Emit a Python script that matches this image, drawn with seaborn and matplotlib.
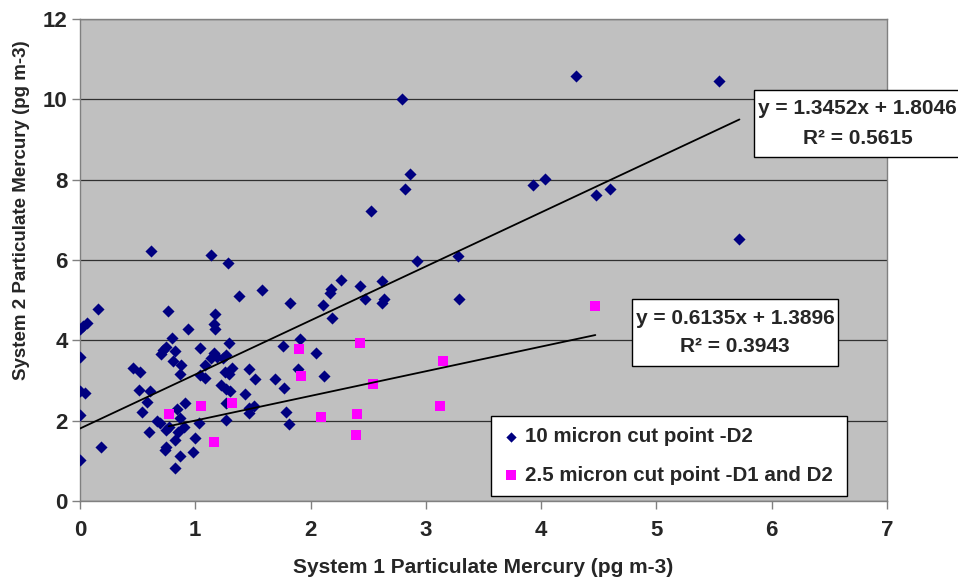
import matplotlib
matplotlib.use("Agg")
import matplotlib.pyplot as plt
from matplotlib.patches import Rectangle
import seaborn as sns
import numpy as np

# ---------------- data ----------------
blue_x = [0.62, 0.16, 0.00, 0.03, 0.06, 0.76, 0.94, 0.80, 0.75, 0.72, 0.70, 0.82, 0.00, 0.46,
          0.52, 0.81, 0.88, 0.87, 0.00, 0.04, 0.51, 0.61, 0.58, 0.54, 0.91, 0.84, 0.00, 0.67,
          0.69, 0.60, 0.75, 0.77, 0.87, 0.90, 0.85, 0.82, 0.75, 0.74, 0.18, 0.87, 0.00, 0.82,
          1.14, 1.28, 1.58, 1.38, 1.82, 1.17, 1.16, 1.17, 1.29, 1.04, 1.76, 1.91, 1.16, 1.14,
          1.19, 1.27, 1.24, 1.08, 1.04, 1.08, 1.32, 1.26, 1.29, 1.47, 1.52, 1.69, 1.77, 1.89,
          1.22, 1.27, 1.30, 1.43, 1.27, 1.47, 1.51, 1.47, 1.79, 1.81, 1.27, 1.03, 1.00, 0.98,
          2.92, 3.28, 3.29, 2.26, 2.18, 2.17, 2.43, 2.47, 2.62, 2.64, 2.62, 2.11, 2.19, 2.05,
          2.12, 2.52, 2.79, 2.86, 2.82, 3.93, 4.03, 4.30, 5.54, 4.48, 4.60, 5.72]
blue_y = [6.22, 4.77, 4.28, 4.36, 4.44, 4.73, 4.28, 4.07, 3.84, 3.76, 3.66, 3.74, 3.59, 3.32,
          3.22, 3.49, 3.39, 3.16, 2.74, 2.68, 2.76, 2.74, 2.47, 2.21, 2.45, 2.29, 2.14, 2.00,
          1.93, 1.71, 1.77, 1.85, 2.06, 1.85, 1.73, 1.52, 1.35, 1.27, 1.35, 1.13, 1.02, 0.81,
          6.12, 5.93, 5.25, 5.10, 4.94, 4.65, 4.40, 4.27, 3.93, 3.82, 3.86, 4.03, 3.68, 3.55,
          3.59, 3.63, 3.55, 3.39, 3.14, 3.07, 3.32, 3.22, 3.16, 3.28, 3.03, 3.03, 2.81, 3.28,
          2.89, 2.78, 2.74, 2.66, 2.43, 2.31, 2.36, 2.20, 2.22, 1.92, 2.02, 1.95, 1.58, 1.23,
          5.98, 6.10, 5.02, 5.50, 5.27, 5.17, 5.35, 5.03, 5.48, 5.03, 4.92, 4.88, 4.55, 3.69,
          3.11, 7.22, 10.01, 8.13, 7.78, 7.87, 8.01, 10.58, 10.46, 7.62, 7.76, 6.52]

pink_x = [0.77, 1.05, 1.16, 1.32, 1.90, 1.92, 2.09, 2.40, 2.39, 2.43, 2.54, 3.12, 3.15, 4.47]
pink_y = [2.16, 2.36, 1.48, 2.45, 3.78, 3.12, 2.08, 2.16, 1.64, 3.93, 2.91, 2.36, 3.49, 4.86]

blue_label = "10 micron cut point -D2"
pink_label = "2.5 micron cut point -D1 and D2"

blue_fit = {"slope": 1.3452, "intercept": 1.8046, "r2": 0.5615}
pink_fit = {"slope": 0.6135, "intercept": 1.3896, "r2": 0.3943}

x_ticks = [0, 1, 2, 3, 4, 5, 6, 7]
y_ticks = [0, 2, 4, 6, 8, 10, 12]
x_title = "System 1 Particulate Mercury (pg m-3)"
y_title = "System 2 Particulate Mercury (pg m-3)"

# ---------------- style ----------------
sns.set_theme(style="white")
plt.rcParams['font.family'] = ['Liberation Sans', 'DejaVu Sans']
plt.rcParams['font.weight'] = 'bold'

W, H = 958, 577
fig = plt.figure(figsize=(W / 100, H / 100), dpi=100)
fig.patch.set_facecolor('white')
ax = fig.add_axes([80 / W, 1 - 501 / H, 807 / W, 482 / H])
ax.set_facecolor('#C0C0C0')

BLUE = '#000080'
PINK = '#FF00FF'

sns.scatterplot(x=blue_x, y=blue_y, marker='D', s=38, color=BLUE, linewidth=0,
                ax=ax, label=blue_label, zorder=3)
sns.scatterplot(x=pink_x, y=pink_y, marker='s', s=62, color=PINK, linewidth=0,
                ax=ax, label=pink_label, zorder=3)

# trendlines from the stated coefficients, spanning each series' x range
for xs, fit in ((blue_x, blue_fit), (pink_x, pink_fit)):
    lx = np.array([min(xs), max(xs)])
    ax.plot(lx, fit["slope"] * lx + fit["intercept"], color='black', lw=1.3, zorder=4)

ax.set_xlim(0, 7)
ax.set_ylim(0, 12)
ax.set_xticks(x_ticks)
ax.set_yticks(y_ticks)
ax.yaxis.grid(True, color='#303030', lw=0.9)
ax.xaxis.grid(False)
ax.set_axisbelow(True)

for side in ['left', 'bottom', 'top', 'right']:
    ax.spines[side].set_color('#808080')
    ax.spines[side].set_linewidth(1.0)

ax.tick_params(axis='both', direction='out', length=6, width=1, color='#808080',
               left=True, bottom=True)
ax.tick_params(axis='y', labelsize=16, pad=3)
ax.tick_params(axis='x', labelsize=16, pad=8)
for lab in ax.get_xticklabels() + ax.get_yticklabels():
    lab.set_fontweight('bold')

ax.set_xlabel(x_title, fontsize=15, fontweight='bold', labelpad=12)
ax.set_ylabel(y_title, fontsize=13.5, fontweight='bold')
ax.yaxis.set_label_coords((30 - 80) / 807, (501 - 210) / 482)

leg = ax.legend(loc='lower left', bbox_to_anchor=(411 / 807, 5 / 482, 356 / 807, 78 / 482),
                mode='expand', frameon=True, fancybox=False, framealpha=1,
                facecolor='white', edgecolor='black', prop={'size': 14.8, 'weight': 'bold'},
                labelspacing=0.95, handlelength=0.8, handletextpad=0.3, borderpad=0.55,
                borderaxespad=0, markerscale=0.85)
leg.get_frame().set_linewidth(1.0)

def px(x, y):
    return x / W, 1 - y / H

def eq_box(fit, x0, y0, w, h):
    fig.add_artist(Rectangle(px(x0, y0 + h), w / W, h / H, transform=fig.transFigure,
                             facecolor='white', edgecolor='black', lw=1.0, zorder=10))
    cx = x0 + w / 2
    fig.text(*px(cx, y0 + 19), f"y = {fit['slope']:.4f}x + {fit['intercept']:.4f}",
             ha='center', va='center', fontsize=15, fontweight='bold', zorder=11)
    fig.text(*px(cx, y0 + 48), f"R\u00b2 = {fit['r2']:.4f}",
             ha='center', va='center', fontsize=15, fontweight='bold', zorder=11)

eq_box(blue_fit, 754, 90, 207, 67)
eq_box(pink_fit, 632, 299, 206, 67)

fig.savefig('out.png', dpi=100)
